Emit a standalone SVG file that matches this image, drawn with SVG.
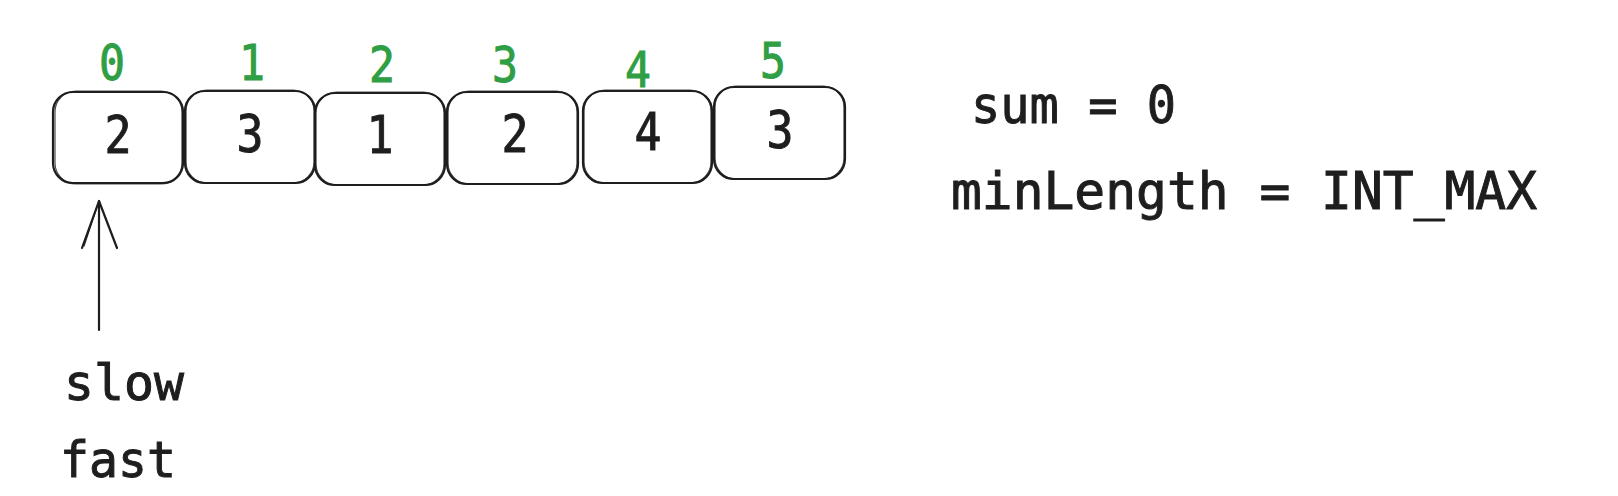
<svg xmlns="http://www.w3.org/2000/svg" width="1618" height="496" viewBox="0 0 1618 496">
<defs>
<style>
.box{fill:#fff;stroke:#1e1e1e;stroke-width:2.2}
.box2{fill:none;stroke:#1e1e1e;stroke-width:1.2;opacity:0.8}
.val{font-family:"DejaVu Sans Mono","Liberation Mono",monospace;font-size:52px;fill:#1e1e1e;stroke:#1e1e1e;stroke-width:1;text-anchor:middle}
.idx{font-family:"DejaVu Sans Mono","Liberation Mono",monospace;font-size:50px;fill:#2f9e44;stroke:#2f9e44;stroke-width:1;text-anchor:middle}
.txt{font-family:"DejaVu Sans Mono","Liberation Mono",monospace;font-size:52px;fill:#1e1e1e;stroke:#1e1e1e;stroke-width:1}
.lbl{font-family:"DejaVu Sans Mono","Liberation Mono",monospace;font-size:50px;fill:#1e1e1e;stroke:#1e1e1e;stroke-width:1}
.arr{fill:none;stroke:#1e1e1e;stroke-width:2.2;stroke-linecap:round;stroke-linejoin:round}
</style>
</defs>
<rect width="1618" height="496" fill="#fff"/>
<g id="cell0">
<rect class="box" x="53" y="92" width="130" height="91" rx="20"/>
<rect class="box2" x="55" y="91" width="127" height="93" rx="21"/>
<text class="val" x="118" y="153" textLength="27" lengthAdjust="spacingAndGlyphs">2</text>
<text class="idx" x="112" y="80" textLength="26" lengthAdjust="spacingAndGlyphs">0</text>
</g>
<g id="cell1">
<rect class="box" x="185" y="91" width="130" height="92" rx="20"/>
<rect class="box2" x="186" y="90" width="128" height="93" rx="21"/>
<text class="val" x="250" y="152" textLength="27" lengthAdjust="spacingAndGlyphs">3</text>
<text class="idx" x="252" y="80" textLength="26" lengthAdjust="spacingAndGlyphs">1</text>
</g>
<g id="cell2">
<rect class="box" x="315" y="93" width="130" height="92" rx="20"/>
<rect class="box2" x="316" y="92" width="128" height="93" rx="21"/>
<text class="val" x="380" y="153" textLength="27" lengthAdjust="spacingAndGlyphs">1</text>
<text class="idx" x="382" y="82" textLength="26" lengthAdjust="spacingAndGlyphs">2</text>
</g>
<g id="cell3">
<rect class="box" x="447" y="92" width="131" height="92" rx="20"/>
<rect class="box2" x="448" y="91" width="129" height="93" rx="21"/>
<text class="val" x="515" y="152" textLength="27" lengthAdjust="spacingAndGlyphs">2</text>
<text class="idx" x="505" y="82" textLength="26" lengthAdjust="spacingAndGlyphs">3</text>
</g>
<g id="cell4">
<rect class="box" x="583" y="91" width="129" height="92" rx="20"/>
<rect class="box2" x="584" y="90" width="127" height="93" rx="21"/>
<text class="val" x="648" y="150" textLength="27" lengthAdjust="spacingAndGlyphs">4</text>
<text class="idx" x="638" y="87" textLength="26" lengthAdjust="spacingAndGlyphs">4</text>
</g>
<g id="cell5">
<rect class="box" x="714" y="87" width="131" height="92" rx="20"/>
<rect class="box2" x="715" y="86" width="129" height="93" rx="21"/>
<text class="val" x="780" y="148" textLength="27" lengthAdjust="spacingAndGlyphs">3</text>
<text class="idx" x="773" y="78" textLength="26" lengthAdjust="spacingAndGlyphs">5</text>
</g>
<g id="vars">
<text class="txt" x="971" y="123" textLength="205" lengthAdjust="spacingAndGlyphs">sum = 0</text>
<text class="txt" x="951" y="209" textLength="586" lengthAdjust="spacingAndGlyphs">minLength = INT_MAX</text>
</g>
<g id="pointer">
<text class="lbl" x="64" y="400" textLength="120" lengthAdjust="spacingAndGlyphs">slow</text>
<text class="lbl" x="60" y="477" textLength="116" lengthAdjust="spacingAndGlyphs">fast</text>
</g>
<g id="connectors">
<path class="arr" d="M99 330 L99 201"/>
<path class="arr" d="M82 248 L99 201 L117 248"/>
<path class="arr" d="M84 246 L98 204" style="stroke-width:1.2"/>
</g>
</svg>
